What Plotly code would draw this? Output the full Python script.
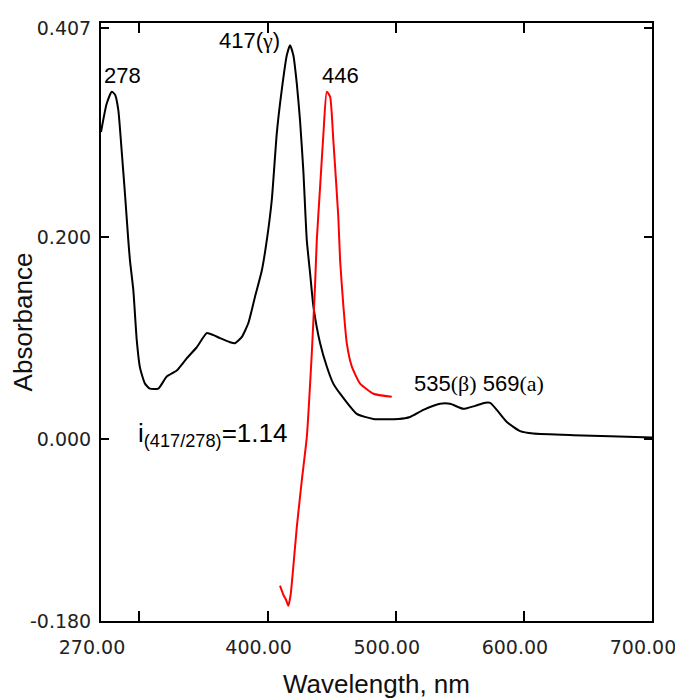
import plotly.graph_objects as go

# Black spectrum (wavelength nm, absorbance)
black_nm = [270.0, 274.4, 278.4, 281.0, 283.5, 286.1, 288.7, 291.3, 292.6, 295.2, 297.9, 300.4,
            304.3, 308.2, 314.7, 321.3, 329.1, 336.9, 344.7, 352.5, 357.7, 362.9, 370.7, 374.6,
            379.8, 385.0, 390.2, 395.5, 399.4, 403.3, 407.2, 411.1, 415.0, 417.5, 420.1, 422.8,
            425.3, 427.9, 430.6, 433.2, 435.8, 441.0, 446.2, 451.3, 456.6, 469.6, 482.6, 502.1,
            511.2, 521.6, 534.6, 542.4, 552.8, 562.0, 569.8, 573.7, 578.9, 586.7, 597.1, 607.5,
            638.7, 667.3, 700.0]
black_abs = [0.304, 0.332, 0.344, 0.341, 0.326, 0.286, 0.243, 0.197, 0.177, 0.148, 0.098, 0.071,
             0.055, 0.050, 0.050, 0.062, 0.068, 0.080, 0.091, 0.105, 0.103, 0.100, 0.096, 0.095,
             0.101, 0.115, 0.141, 0.167, 0.197, 0.237, 0.303, 0.346, 0.380, 0.390, 0.380, 0.352,
             0.316, 0.266, 0.197, 0.164, 0.131, 0.095, 0.072, 0.055, 0.045, 0.025, 0.020, 0.020,
             0.022, 0.029, 0.035, 0.035, 0.030, 0.033, 0.036, 0.036, 0.029, 0.017, 0.008, 0.0056,
             0.004, 0.003, 0.0017]

# Red spectrum
red_nm = [409.7, 412.3, 414.4, 416.2, 418.1, 420.1, 422.8, 426.7, 430.6, 434.5, 437.1, 438.4,
          441.0, 443.6, 446.2, 448.8, 451.3, 455.2, 456.6, 459.2, 461.8, 465.7, 472.2, 482.6, 496.9]
red_abs = [-0.145, -0.154, -0.159, -0.165, -0.153, -0.126, -0.087, -0.041, 0.002, 0.085, 0.154, 0.197,
           0.250, 0.303, 0.344, 0.339, 0.296, 0.220, 0.177, 0.131, 0.095, 0.072, 0.055, 0.045, 0.042]

x_label_vals = [270, 400, 500, 600, 700]
x_label_text = ["270.00", "400.00", "500.00", "600.00", "700.00"]
x_tick_vals = [300, 400, 500, 600]
y_tick_vals = [-0.18, 0.0, 0.2, 0.407]
y_tick_text = ["-0.180", "0.000", "0.200", "0.407"]

X_RANGE = [270, 700]
Y_RANGE = [-0.18, 0.412]

fig = go.Figure()
fig.add_trace(go.Scatter(x=black_nm, y=black_abs, mode="lines",
                         line=dict(color="black", width=2, shape="spline", smoothing=0.5),
                         showlegend=False))
fig.add_trace(go.Scatter(x=red_nm, y=red_abs, mode="lines", xaxis="x2",
                         line=dict(color="#ff0000", width=2, shape="spline", smoothing=0.5),
                         showlegend=False))

tick_font = dict(family="DejaVu Sans", size=19, color="#222222")

# page body has an 8px default margin, so the figure is sized to fit the window
fig.update_layout(
    width=675, height=691,
    margin=dict(l=93, r=31, t=15, b=78, autoexpand=False),
    paper_bgcolor="white", plot_bgcolor="white",
    xaxis=dict(range=X_RANGE, tickmode="array", tickvals=x_label_vals, ticktext=x_label_text,
               ticks="", showline=True, linecolor="black", linewidth=2, mirror=True,
               showgrid=False, zeroline=False, tickfont=tick_font, ticklabelshift=-9,
               ticklabelstandoff=8, automargin=False,
               title=dict(text="Wavelength, nm", font=dict(family="Liberation Sans", size=26, color="#111"),
                          standoff=20)),
    xaxis2=dict(range=X_RANGE, overlaying="x", anchor="y", side="bottom", tickmode="array",
                tickvals=x_tick_vals, ticks="inside", ticklen=10, tickwidth=2, tickcolor="black",
                mirror="ticks", showticklabels=False, showline=False, showgrid=False, zeroline=False,
                automargin=False),
    yaxis=dict(range=Y_RANGE, tickmode="array", tickvals=y_tick_vals, ticktext=y_tick_text,
               ticks="inside", ticklen=8, tickwidth=2, tickcolor="black",
               showline=True, linecolor="black", linewidth=2, mirror="all",
               showgrid=False, zeroline=False, tickfont=tick_font, ticklabelstandoff=4,
               automargin=False,
               title=dict(text="Absorbance", font=dict(family="Liberation Sans", size=26, color="#111"),
                          standoff=2)),
)

ann_font = dict(family="Liberation Sans", size=22, color="black")
serif = "<span style='font-family:Liberation Serif'>"
annotations = [
    dict(x=287, y=0.360, text="278"),
    dict(x=386, y=0.395, text="417(" + serif + "γ</span>)"),
    dict(x=456.6, y=0.360, text="446"),
    dict(x=565, y=0.055, text="535" + serif + "(β)</span> 569" + serif + "(a)</span>"),
]
for a in annotations:
    fig.add_annotation(x=a["x"], y=a["y"], text=a["text"], showarrow=False,
                       xanchor="center", yanchor="middle", font=ann_font)
fig.add_annotation(x=297, y=0.005, text="i<sub>(417/278)</sub>=1.14", showarrow=False,
                   xanchor="left", yanchor="middle",
                   font=dict(family="Liberation Sans", size=26, color="black"))

fig.write_html("out.html")
